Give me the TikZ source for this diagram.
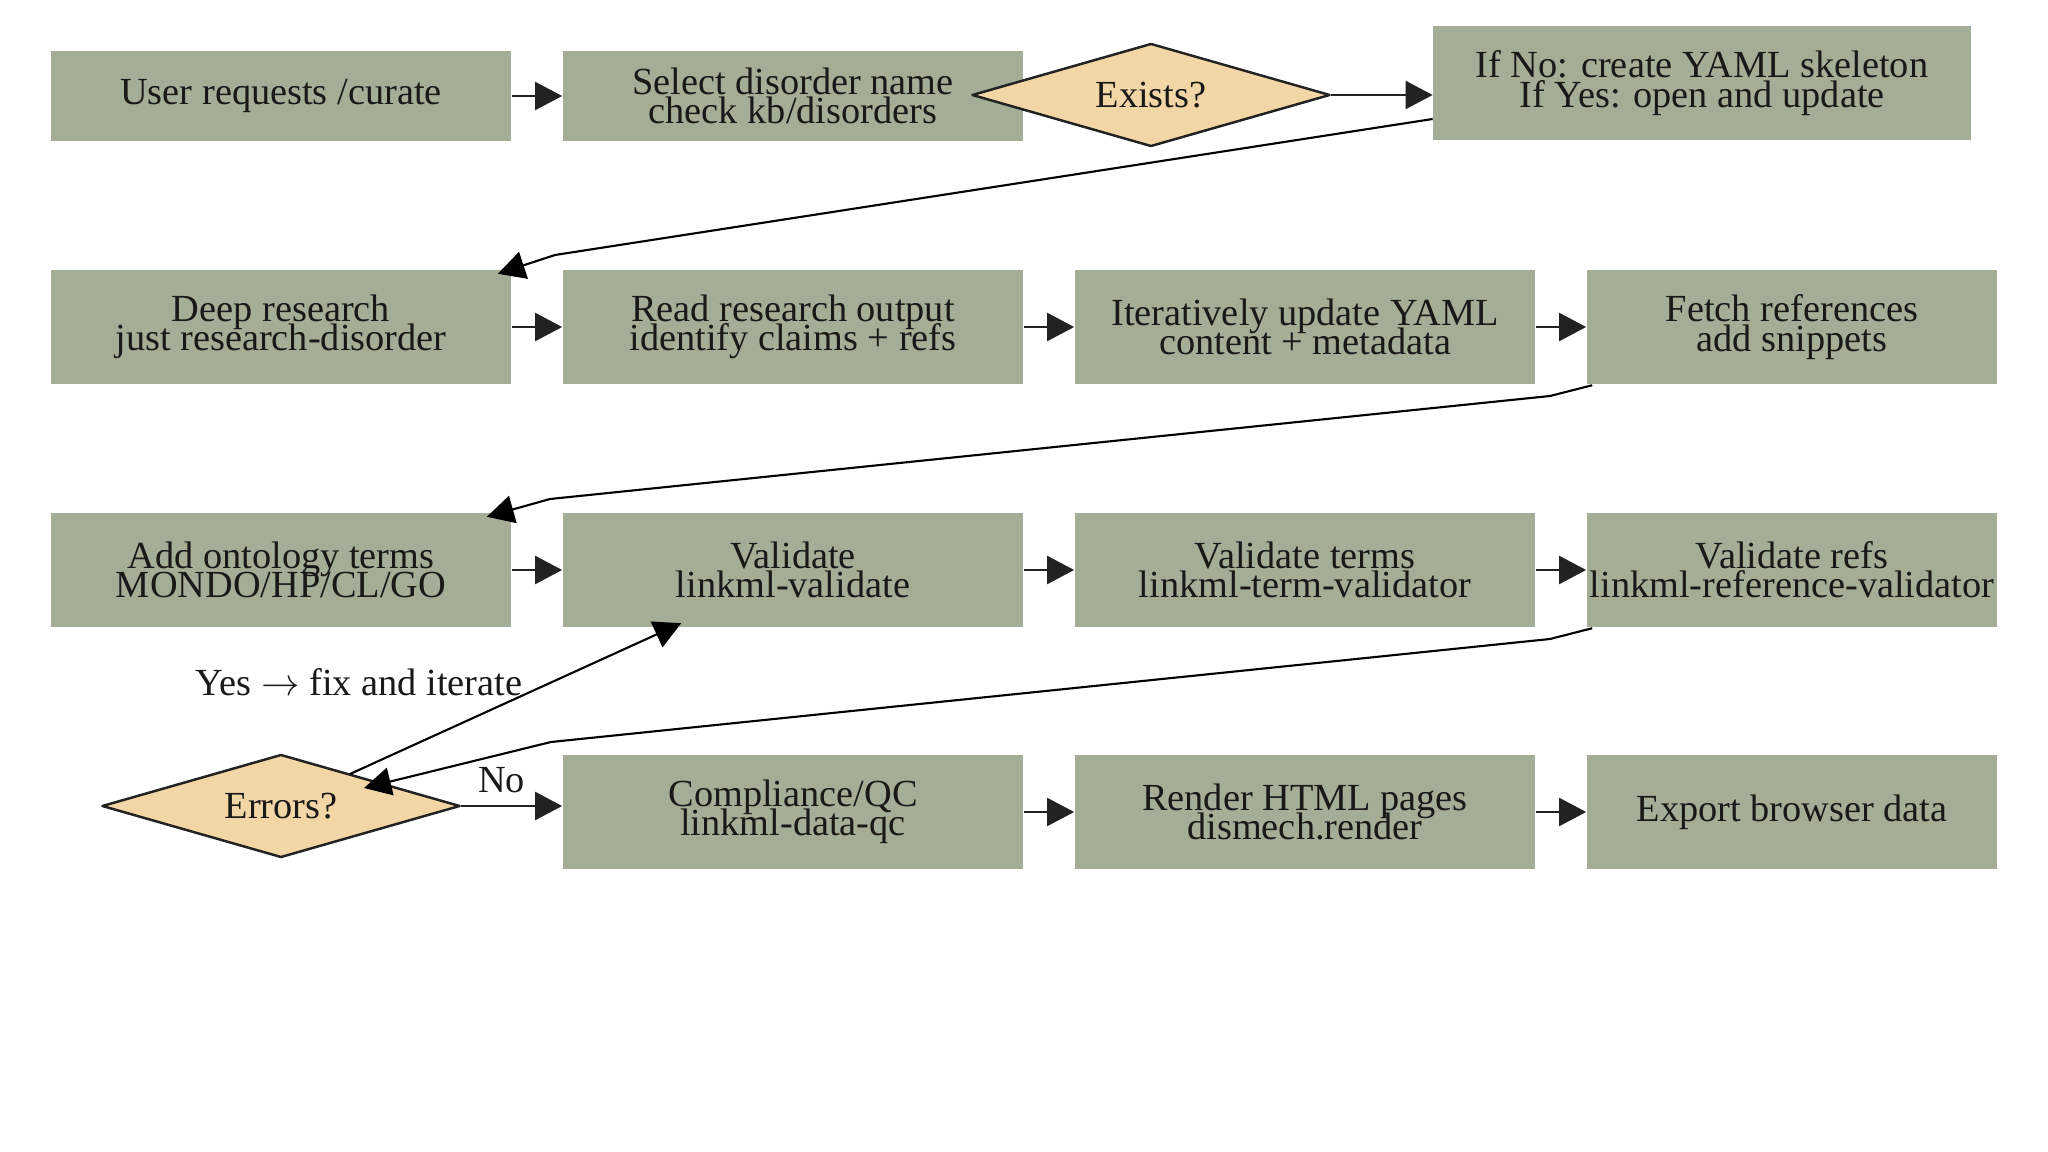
\documentclass[tikz,border=0pt]{standalone}
\usepackage{fontspec}
\setmainfont{Liberation Serif}
\usepackage{tikz}
\usetikzlibrary{arrows.meta,calc,shapes.geometric}

\definecolor{stepfill}{RGB}{164,174,150}
\definecolor{askfill}{RGB}{242,214,166}
\definecolor{inkgray}{RGB}{34,34,34}
\lineskiplimit=-20pt

\begin{document}
\begin{tikzpicture}[
  x=0.01cm, y=-0.01cm,
  >={Triangle[length=2.7mm,width=2.8mm]},
  line join=round,
  every node/.style={font=\fontsize{10.9}{8.3}\selectfont, text=black!90, align=center},
  stepbox/.style={rectangle, fill=stepfill, inner sep=0pt, minimum width=4.6cm, minimum height=1.13cm},
  askbox/.style={diamond, shape aspect=3.5, draw=inkgray, line width=0.7pt, fill=askfill, inner sep=0pt, minimum width=3.58cm, minimum height=1.03cm},
  flow/.style={->, line width=0.6pt, draw=inkgray},
  back/.style={->, line width=0.6pt, draw=black}
]
  \fill[white] (0,0) rectangle (2048,1152);
  \useasboundingbox (0,0) rectangle (2048,1152);

  % Start and the YAML file
  \node[stepbox, minimum height=0.9cm] (req) at (281,96) {User requests /curate};
  \node[stepbox, minimum height=0.9cm] (sel) at (793,96) {Select disorder name\\check kb/disorders};
  \node[askbox] (ex) at (1151,95) {Exists?};
  \node[stepbox, minimum width=5.37cm, minimum height=1.14cm] (yaml) at (1702,83) {If No: create YAML skeleton\\If Yes: open and update};

  % Research
  \node[stepbox] (deep)  at (281,327)  {Deep research\\just research-disorder};
  \node[stepbox] (read)  at (793,327)  {Read research output\\identify claims + refs};
  \node[stepbox] (iter)  at (1305,327) {Iteratively update YAML\\content + metadata};
  \node[stepbox, minimum width=4.1cm] (fetch) at (1792,327) {Fetch references\\add snippets};

  % Validation
  \node[stepbox] (add)   at (281,570)  {Add ontology terms\\MONDO/HP/CL/GO};
  \node[stepbox] (val)   at (793,570)  {Validate\\linkml-validate};
  \node[stepbox] (vterm) at (1305,570) {Validate terms\\linkml-term-validator};
  \node[stepbox, minimum width=4.1cm] (vref) at (1792,570) {Validate refs\\linkml-reference-validator};

  % QC and output
  \node[askbox] (err) at (281,806) {Errors?};
  \node[stepbox] (qc)     at (793,812)  {Compliance/QC\\linkml-data-qc};
  \node[stepbox] (html)   at (1305,812) {Render HTML pages\\dismech.render};
  \node[stepbox, minimum width=4.1cm] (export) at (1792,812) {Export browser data};

  \coordinate (b1) at (555,255);
  \coordinate (b2) at (1550,396);
  \coordinate (b3) at (550,499);
  \coordinate (b4) at (1550,639);
  \coordinate (b5) at (551,742);

  \draw[flow] (req) -- (sel);
  \draw[flow] (ex.east) -- (ex.east -| yaml.west);
  \draw[back] ($(yaml.west)+(0,36)$) -- (b1) -- ($(deep.north east)+(-14,4)$);

  \draw[flow] (deep) -- (read);
  \draw[flow] (read) -- (iter);
  \draw[flow] (iter) -- (fetch);
  \draw[back] ($(fetch.south west)+(6,1)$) -- (b2) -- (b3) -- ($(add.north east)+(-25,4)$);

  \draw[flow] (add) -- (val);
  \draw[flow] (val) -- (vterm);
  \draw[flow] (vterm) -- (vref);
  \draw[back] ($(vref.south west)+(6,1)$) -- (b4) -- (b5) -- ($(err)+(83,-18)$);

  \draw[back] ($(err)+(69,-32)$) -- ($(val.south west)+(119,-4)$);
  \node (yes) at (359,682) {Yes $\rightarrow$ fix and iterate};
  \draw[flow] (err.east) -- node[above, pos=0.4] (no) {No} (err.east -| qc.west);

  \draw[flow] (qc) -- (html);
  \draw[flow] (html) -- (export);
\end{tikzpicture}
\end{document}
